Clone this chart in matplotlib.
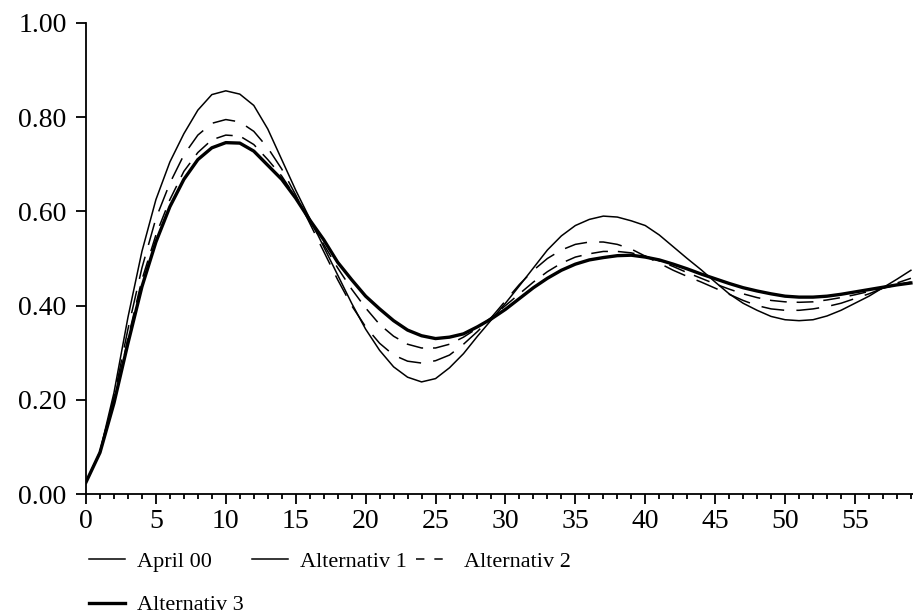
import numpy as np
import matplotlib
matplotlib.use('Agg')
import matplotlib.pyplot as plt
from matplotlib.lines import Line2D
from matplotlib.ticker import MultipleLocator, FormatStrFormatter

# Data (monthly steps 0..59)
months = np.arange(60)

april_00 = [0.025, 0.090, 0.215, 0.375, 0.515, 0.625, 0.705, 0.765, 0.815, 0.848,
            0.856, 0.849, 0.825, 0.775, 0.710, 0.645, 0.585, 0.525, 0.465, 0.405,
            0.350, 0.305, 0.270, 0.248, 0.238, 0.245, 0.268, 0.298, 0.335, 0.370,
            0.405, 0.442, 0.480, 0.518, 0.548, 0.570, 0.583, 0.590, 0.588, 0.580,
            0.570, 0.550, 0.525, 0.500, 0.476, 0.450, 0.425, 0.405, 0.390, 0.377,
            0.370, 0.368, 0.370, 0.378, 0.390, 0.405, 0.420, 0.438, 0.456, 0.475]

alternativ_1 = [0.025, 0.090, 0.205, 0.350, 0.480, 0.585, 0.660, 0.720, 0.762, 0.787,
                0.795, 0.790, 0.770, 0.735, 0.690, 0.635, 0.575, 0.515, 0.455, 0.400,
                0.355, 0.320, 0.295, 0.282, 0.278, 0.283, 0.295, 0.318, 0.345, 0.375,
                0.410, 0.445, 0.475, 0.500, 0.518, 0.530, 0.535, 0.535, 0.530, 0.520,
                0.505, 0.490, 0.475, 0.462, 0.450, 0.437, 0.424, 0.411, 0.400, 0.393,
                0.390, 0.390, 0.393, 0.398, 0.405, 0.415, 0.425, 0.437, 0.448, 0.458]

alternativ_2 = [0.025, 0.088, 0.195, 0.330, 0.455, 0.550, 0.625, 0.685, 0.725, 0.752,
                0.762, 0.760, 0.742, 0.710, 0.675, 0.630, 0.580, 0.530, 0.480, 0.435,
                0.395, 0.360, 0.335, 0.318, 0.310, 0.310, 0.318, 0.333, 0.352, 0.375,
                0.400, 0.425, 0.450, 0.472, 0.490, 0.503, 0.510, 0.515, 0.515, 0.512,
                0.505, 0.495, 0.483, 0.470, 0.458, 0.446, 0.435, 0.425, 0.417, 0.411,
                0.408, 0.407, 0.408, 0.412, 0.417, 0.423, 0.430, 0.437, 0.444, 0.450]

alternativ_3 = [0.025, 0.088, 0.193, 0.320, 0.440, 0.535, 0.610, 0.668, 0.710, 0.735,
                0.746, 0.745, 0.728, 0.698, 0.668, 0.628, 0.582, 0.540, 0.492, 0.455,
                0.420, 0.393, 0.368, 0.348, 0.336, 0.330, 0.333, 0.340, 0.355, 0.372,
                0.392, 0.415, 0.438, 0.458, 0.475, 0.488, 0.497, 0.502, 0.506, 0.507,
                0.503, 0.497, 0.488, 0.478, 0.467, 0.457, 0.447, 0.438, 0.431, 0.425,
                0.420, 0.418, 0.418, 0.420, 0.424, 0.429, 0.434, 0.439, 0.444, 0.448]

labels = ['April 00', 'Alternativ 1', 'Alternativ 2', 'Alternativ 3']

plt.rcParams['font.family'] = ['Liberation Serif', 'DejaVu Serif']

fig = plt.figure(figsize=(9.13, 6.14), dpi=100)
ax = fig.add_axes([86 / 913, 120 / 614, 827 / 913, 471 / 614])

ax.plot(months, april_00, color='black', lw=1.1)
ax.plot(months, alternativ_1, color='black', lw=1.1, dashes=(15, 8))
ax.plot(months, alternativ_2, color='black', lw=1.1, dashes=(11, 6.5))
ax.plot(months, alternativ_3, color='black', lw=2.4)

ax.set_xlim(0, 59.15)
ax.set_ylim(0, 1.0)
ax.spines['top'].set_visible(False)
ax.spines['right'].set_visible(False)
ax.spines['left'].set_linewidth(1.3)
ax.spines['bottom'].set_linewidth(1.3)

ax.xaxis.set_major_locator(MultipleLocator(5))
ax.xaxis.set_minor_locator(MultipleLocator(1))
ax.yaxis.set_major_locator(MultipleLocator(0.2))
ax.yaxis.set_major_formatter(FormatStrFormatter('%.2f'))
ax.tick_params(axis='x', which='major', direction='out', length=7, width=1.3,
               labelsize=20, pad=4)
ax.tick_params(axis='x', which='minor', direction='out', length=3.5, width=1.3)
ax.tick_params(axis='y', which='major', direction='out', length=7, width=1.3,
               labelsize=20, pad=7)

# legend, laid out row by row like the reference
handles = [
    Line2D([], [], color='black', lw=1.1),
    Line2D([], [], color='black', lw=2.4),
    Line2D([], [], color='black', lw=1.1),
    Line2D([], [], color='black', lw=1.1, dashes=(5.5, 6.5)),
]
order_labels = [labels[0], labels[3], labels[1], labels[2]]
fig.legend(handles, order_labels, loc='upper left',
           bbox_to_anchor=(89 / 913, 1 - 551 / 614), ncol=3, frameon=False,
           fontsize=16, handlelength=1.6, handletextpad=0.55,
           columnspacing=0.4, labelspacing=1.05, borderpad=0, borderaxespad=0)

fig.savefig('out.png', dpi=100, facecolor='white')
